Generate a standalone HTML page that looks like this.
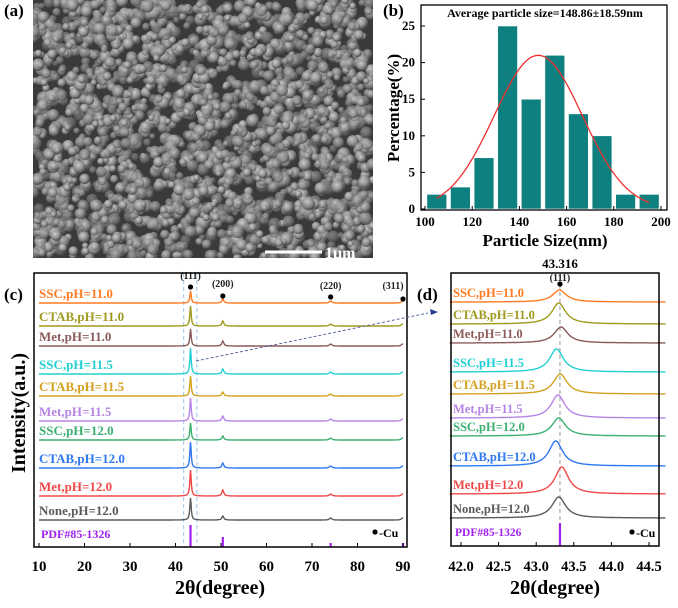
<!DOCTYPE html>
<html><head><meta charset="utf-8">
<style>
html,body{margin:0;padding:0;background:#fff;}
svg, svg text{font-family:"Liberation Serif","Times New Roman",serif;font-weight:bold;}
</style></head>
<body>
<svg id="fig" width="678" height="603" viewBox="0 0 678 603" xmlns="http://www.w3.org/2000/svg" font-family="Liberation Serif, serif" font-weight="bold">
<defs>
<radialGradient id="ball" cx="40%" cy="35%" r="65%">
<stop offset="0" stop-color="#cfcfcf"/><stop offset="0.6" stop-color="#8e8e8e"/><stop offset="1" stop-color="#444"/>
</radialGradient>
<clipPath id="semclip"><rect x="33" y="0" width="340" height="258"/></clipPath>
</defs>
<g>
<text x="4" y="16" font-size="17" font-family="Liberation Serif, serif">(a)</text>
<rect x="33" y="0" width="340" height="258" fill="#3a3a3a"/>
<g id="sem" clip-path="url(#semclip)"></g>
<line x1="265" y1="252" x2="322" y2="252" stroke="#fff" stroke-width="3"/>
<text x="325" y="258" font-size="16" fill="#fff" font-family="Liberation Serif, serif">1μm</text>
</g>
<g id="pb"></g>
<g id="pc"></g>
<g id="pd"></g>
</svg>
<script>
const NS='http://www.w3.org/2000/svg';
function mk(parent,tag,attrs,txt){const e=document.createElementNS(NS,tag);for(const k in attrs)e.setAttribute(k,attrs[k]);if(tag==='text'){e.setAttribute('font-family','Liberation Serif, serif');e.setAttribute('font-weight','bold');}if(txt!==undefined)e.textContent=txt;parent.appendChild(e);return e;}

// ---- SEM texture (decorative) ----
(function(){const g=document.getElementById('sem');let s=12345;function r(){s=(s*16807)%2147483647;return s/2147483647;}
for(let i=0;i<2200;i++){const x=33+r()*340,y=r()*258,rad=3+r()*3.5;const c=mk(g,'circle',{cx:x.toFixed(1),cy:y.toFixed(1),r:rad.toFixed(1),fill:'url(#ball)',opacity:(0.4+r()*0.6).toFixed(2)});

}})();

// ---- Panel b data ----
const binCenters=[105,115,125,135,145,155,165,175,185,195];
const binPercents=[2,3,7,25,15,21,13,10,2,2];
const bXTicks=[100,120,140,160,180,200];
const bYTicks=[0,5,10,15,20,25];
const fitMean=148.0, fitSigma=18.7, fitPeak=21;

(function(){const g=document.getElementById('pb');
const X0=421,X1=667,Y0=210,Y1=5;
const bx=v=>425+(v-100)*(661-425)/100, by=v=>209+(v)*(26-209)/25;
let t=mk(g,'text',{x:383,y:16,'font-size':17},'(b)');
binCenters.forEach((c,i)=>{const r=mk(g,'rect',{x:bx(c-4.2),y:by(binPercents[i]),width:bx(c+4.2)-bx(c-4.2),height:by(0)-by(binPercents[i]),fill:'#0f8080',stroke:'#fff','stroke-width':0.6});

});
let d='';for(let v=105;v<=195;v+=1){const y=fitPeak*Math.exp(-((v-fitMean)**2)/(2*fitSigma*fitSigma));d+=(v==105?'M':'L')+bx(v).toFixed(1)+','+by(y).toFixed(1);}
let p=mk(g,'path',{d:d,fill:'none',stroke:'#f03030','stroke-width':1.3});
let f=mk(g,'rect',{x:X0,y:Y1,width:X1-X0,height:Y0-Y1,fill:'none',stroke:'#000','stroke-width':1.3});
bXTicks.forEach(v=>{mk(g,'line',{x1:bx(v),x2:bx(v),y1:Y0,y2:Y0-4,stroke:'#000'});let l=mk(g,'text',{x:bx(v),y:226,'font-size':13,'text-anchor':'middle'},v);});
bYTicks.forEach(v=>{mk(g,'line',{x1:X0,x2:X0+4,y1:by(v),y2:by(v),stroke:'#000'});let l=mk(g,'text',{x:415,y:by(v)+4,'font-size':13,'text-anchor':'end'},v);});
t=mk(g,'text',{x:545,y:17,'font-size':12,'text-anchor':'middle'},'Average particle size=148.86±18.59nm');
t=mk(g,'text',{x:545,y:246,'font-size':17,'text-anchor':'middle'},'Particle Size(nm)');
t=mk(g,'text',{x:0,y:0,'font-size':17,'text-anchor':'middle',transform:'translate(399,108) rotate(-90)'},'Percentage(%)');
})();

// ---- XRD data ----
const sampleNames=['SSC,pH=11.0','CTAB,pH=11.0','Met,pH=11.0','SSC,pH=11.5','CTAB,pH=11.5','Met,pH=11.5','SSC,pH=12.0','CTAB,pH=12.0','Met,pH=12.0','None,pH=12.0'];
const sampleColors=['#ff7a22','#a09a1e','#8a5a5a','#22d0d4','#d4a020','#b585e6','#3cb070','#2f78f0','#f04848','#5a5a5a'];
const baselineC=[303,326,346,374,396,421,440,468,496,520];
const baselineD=[302,324,343,372,394,418,436,466,494,518];
const peak111=[12,20,17,26,20,23,17,26,26,22];
const peak200=[4,5,5,5,4,5,4,5,6,4];
const peak220=[2,2,2,2,2,2,2,2,2,2];
const peak311=[2,2,2,2,2,2,2,2,2,2];
const peakPosD=[43.31,43.30,43.33,43.27,43.32,43.29,43.30,43.26,43.34,43.30];
const peakHeightD=[12,21,16,23,20,23,18,25,27,21];
const pdfPositions=[43.3,50.4,74.1,90.0];
const pdfHeights=[22,10,4,4];
const cXTicks=[10,20,30,40,50,60,70,80,90];
const dXTicks=[42.0,42.5,43.0,43.5,44.0,44.5];

function lor(x,c,w){return 1/(1+((x-c)/w)**2);}

// ---- Panel c ----
(function(){const g=document.getElementById('pc');
const X0=34,X1=407,Y0=547,Y1=273;
const cx=v=>39+(v-10)*(403-39)/80;
let t=mk(g,'text',{x:4,y:300,'font-size':17},'(c)');
[41.8,44.7].forEach(v=>{const l=mk(g,'line',{x1:cx(v),x2:cx(v),y1:Y1,y2:Y0,stroke:'#9cc4e8','stroke-dasharray':'4,3','stroke-width':1});});
sampleNames.forEach((n,i)=>{let d='';const b=baselineC[i];
for(let v=10;v<=90;v+=0.1){const y=b-peak111[i]*lor(v,43.3,0.18)-peak200[i]*lor(v,50.4,0.25)-peak220[i]*lor(v,74.1,0.3)-peak311[i]*lor(v,89.9,0.3);d+=(v==10?'M':'L')+cx(v).toFixed(1)+','+y.toFixed(1);}
const p=mk(g,'path',{d:d,fill:'none',stroke:sampleColors[i],'stroke-width':1.4});


const l=mk(g,'text',{x:39,y:b-5,'font-size':13,fill:sampleColors[i]},n);

});
pdfPositions.forEach((v,i)=>{const l=mk(g,'line',{x1:cx(v),x2:cx(v),y1:Y0,y2:Y0-pdfHeights[i],stroke:'#a020f0','stroke-width':2.2});

});
t=mk(g,'text',{x:41,y:538,'font-size':12,fill:'#a020f0'},'PDF#85-1326');
const hkl=[['(111)',43.3,287,279],['(200)',50.4,296,287],['(220)',74.1,297,289],['(311)',90,299,289]];
hkl.forEach(h=>{mk(g,'circle',{cx:cx(h[1]),cy:h[2],r:2.6,fill:'#000'});const l=mk(g,'text',{x:h[1]==90?cx(90)-10:cx(h[1]),y:h[3],'font-size':10,'text-anchor':'middle',fill:'#222'},h[0]);});
mk(g,'circle',{cx:375,cy:532,r:2.6,fill:'#000'});
t=mk(g,'text',{x:379,y:537,'font-size':12},'-Cu');
let f=mk(g,'rect',{x:X0,y:Y1,width:X1-X0,height:Y0-Y1,fill:'none',stroke:'#000','stroke-width':1.5});
cXTicks.forEach(v=>{mk(g,'line',{x1:cx(v),x2:cx(v),y1:Y0,y2:Y0-4,stroke:'#000'});const l=mk(g,'text',{x:cx(v),y:571,'font-size':15,'text-anchor':'middle'},v);});
t=mk(g,'text',{x:220,y:594,'font-size':20,'text-anchor':'middle'},'2θ(degree)');
t=mk(g,'text',{x:0,y:0,'font-size':20,'text-anchor':'middle',transform:'translate(25,413) rotate(-90)'},'Intensity(a.u.)');
const c=mk(g,'line',{x1:196,y1:361,x2:428,y2:313,stroke:'#4a5a9a','stroke-dasharray':'3,2','stroke-width':0.9});
mk(g,'path',{d:'M438,312 L430,309 L431,315 Z',fill:'#2a3a8a'});
})();

// ---- Panel d ----
(function(){const g=document.getElementById('pd');
const X0=451,X1=659,Y0=546,Y1=273;
const dx=v=>461+(v-42)*(649-461)/2.5;
let t=mk(g,'text',{x:417,y:300,'font-size':17},'(d)');
const dl=mk(g,'line',{x1:dx(43.316),x2:dx(43.316),y1:Y1+12,y2:Y0,stroke:'#aaa','stroke-dasharray':'4,3','stroke-width':1.2});
sampleNames.forEach((n,i)=>{let d='';const b=baselineD[i];
for(let v=41.85;v<=44.72;v+=0.01){const y=b-peakHeightD[i]*lor(v,peakPosD[i],0.11);d+=(d?'L':'M')+dx(v).toFixed(1)+','+y.toFixed(1);}
const p=mk(g,'path',{d:d,fill:'none',stroke:sampleColors[i],'stroke-width':1.4});


const l=mk(g,'text',{x:453,y:b-5,'font-size':12.5,fill:sampleColors[i]},n);

});
const pl=mk(g,'line',{x1:dx(43.316),x2:dx(43.316),y1:Y0,y2:Y0-pdfHeights[0]-1,stroke:'#a020f0','stroke-width':2.2});
t=mk(g,'text',{x:455,y:536,'font-size':11.5,fill:'#a020f0'},'PDF#85-1326');
mk(g,'circle',{cx:632,cy:532,r:2.6,fill:'#000'});
t=mk(g,'text',{x:636,y:537,'font-size':12},'-Cu');
mk(g,'circle',{cx:dx(43.316),cy:284,r:2.6,fill:'#000'});
t=mk(g,'text',{x:dx(43.316),y:281,'font-size':10,'text-anchor':'middle',fill:'#222'},'(111)');
t=mk(g,'text',{x:dx(43.316),y:268,'font-size':13,'text-anchor':'middle'},'43.316');
let f=mk(g,'rect',{x:X0,y:Y1,width:X1-X0,height:Y0-Y1,fill:'none',stroke:'#000','stroke-width':1.5});
dXTicks.forEach(v=>{mk(g,'line',{x1:dx(v),x2:dx(v),y1:Y0,y2:Y0-4,stroke:'#000'});const l=mk(g,'text',{x:dx(v),y:571,'font-size':14.5,'text-anchor':'middle'},v.toFixed(1));});
t=mk(g,'text',{x:555,y:594,'font-size':20,'text-anchor':'middle'},'2θ(degree)');
})();
</script>
</body></html>
